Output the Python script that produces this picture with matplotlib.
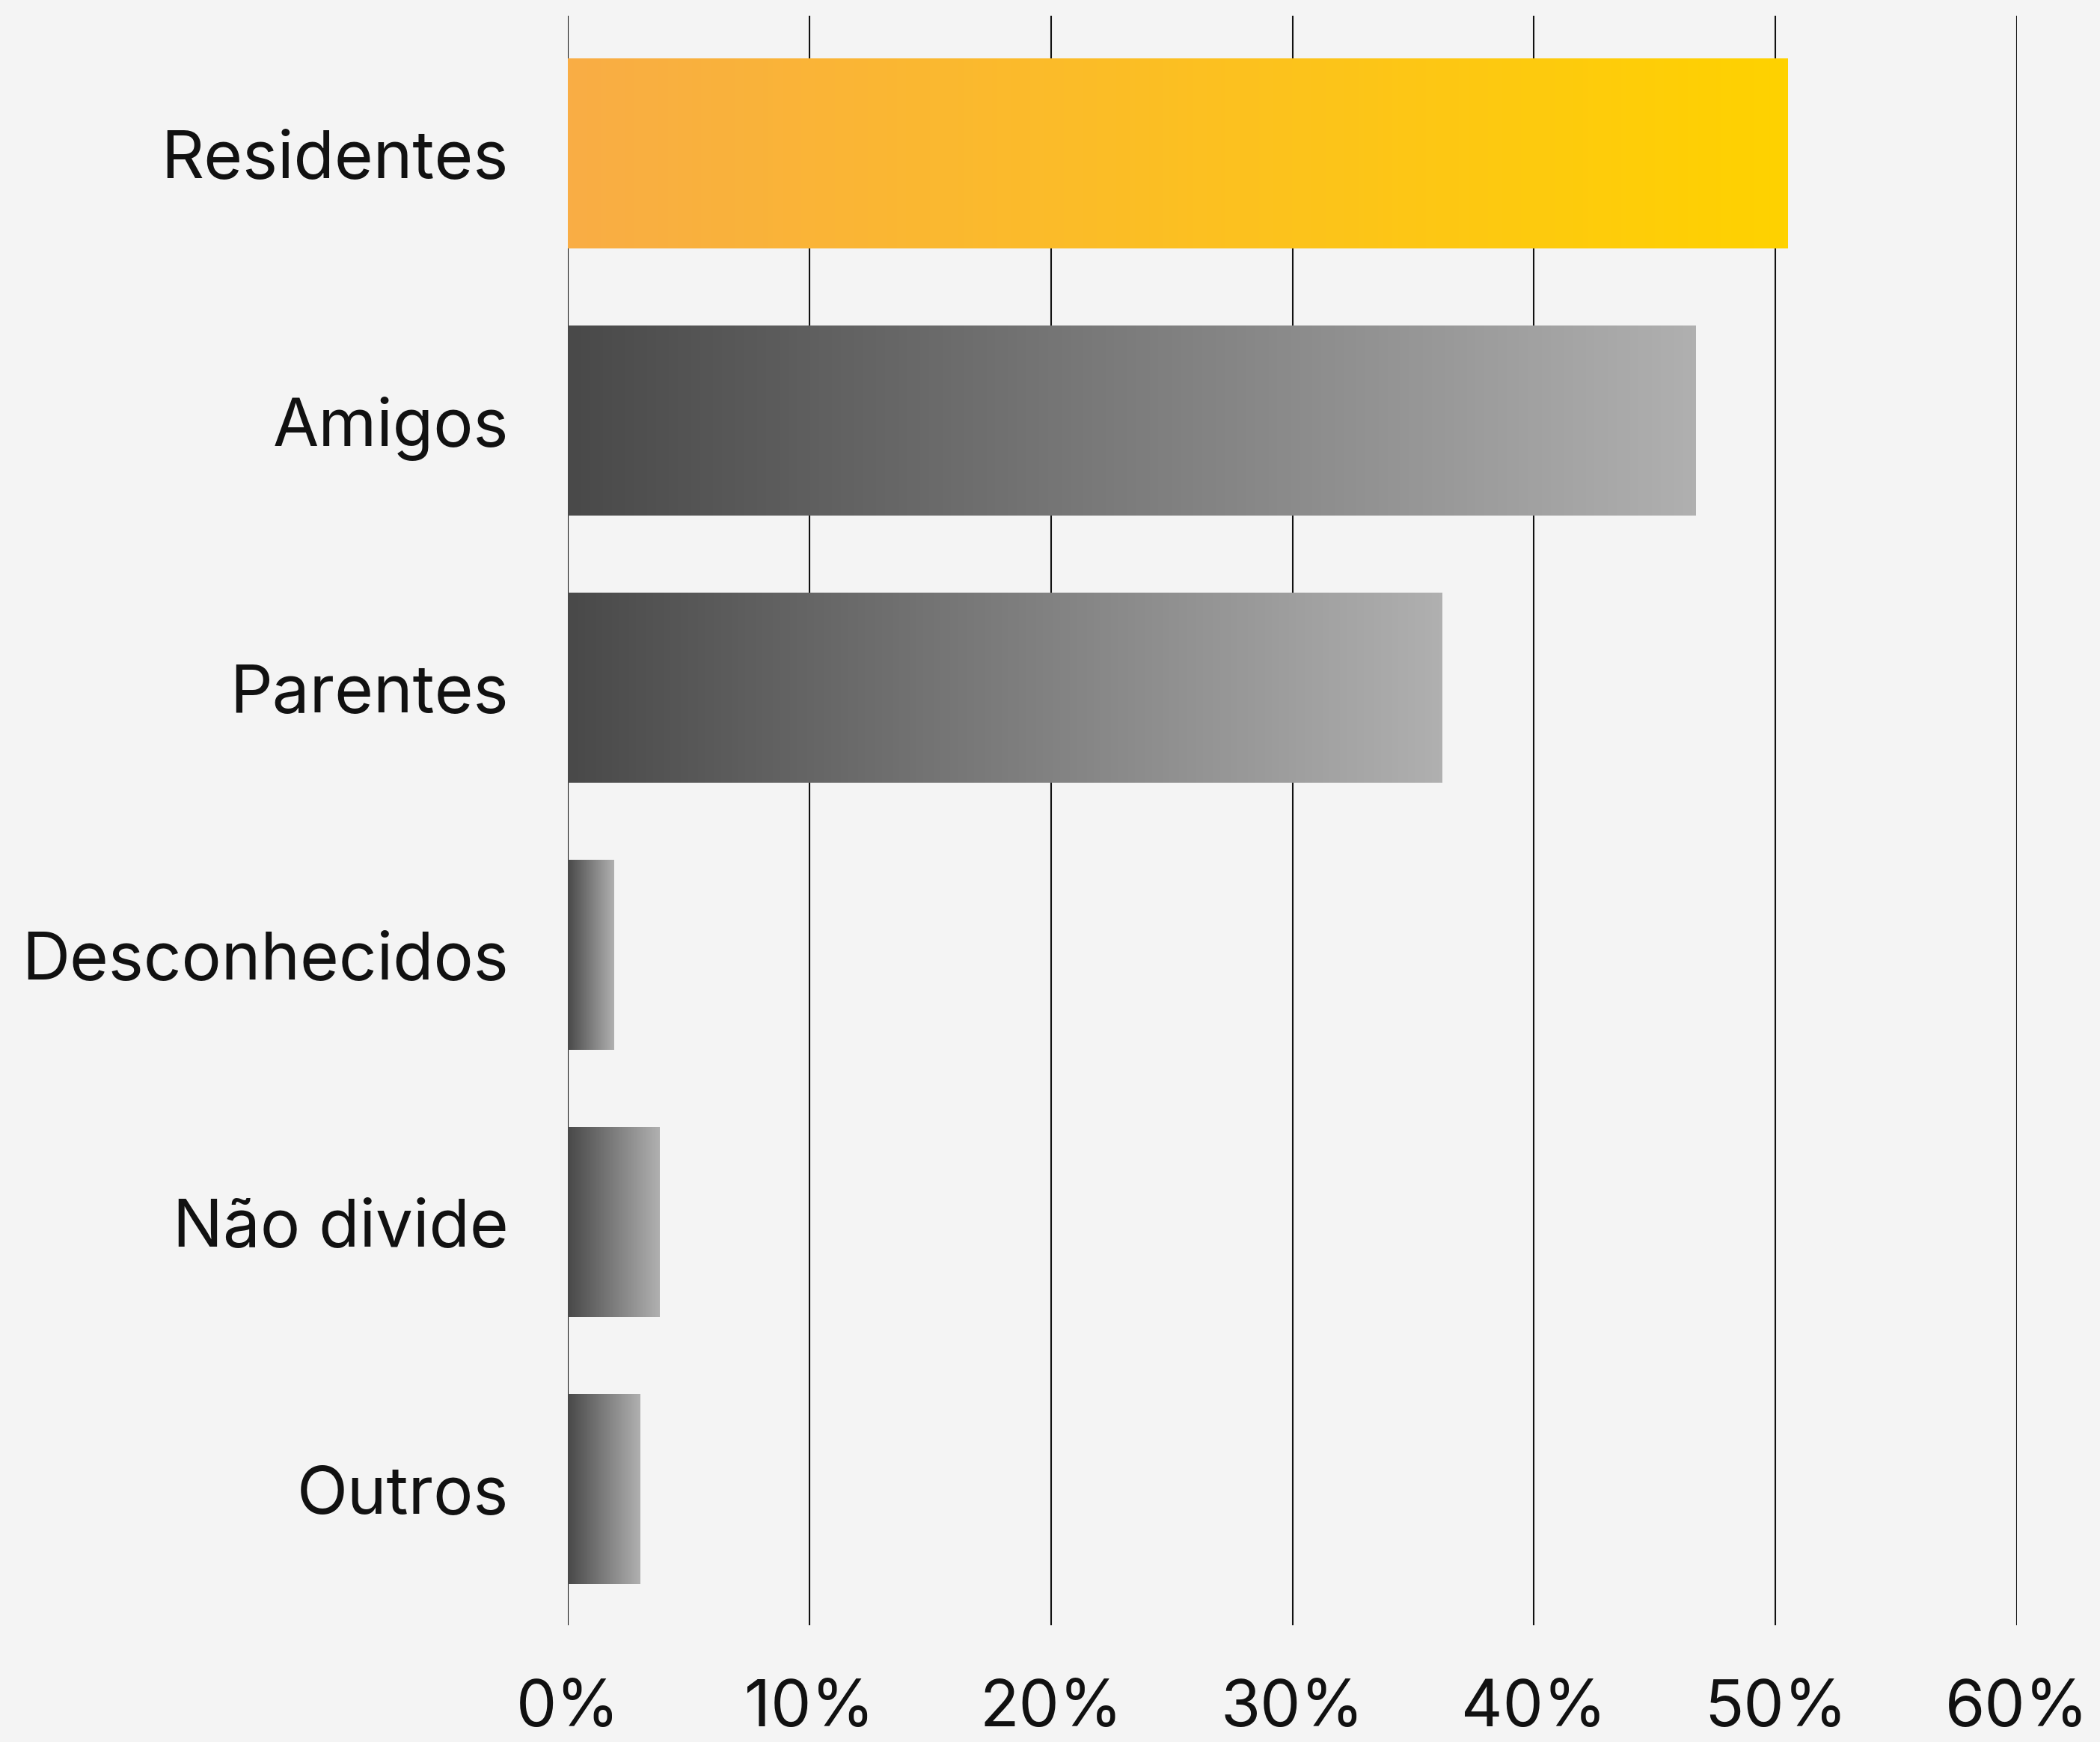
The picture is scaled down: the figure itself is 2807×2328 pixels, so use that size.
import numpy as np
import matplotlib
matplotlib.use("Agg")
import matplotlib.pyplot as plt
from matplotlib.colors import LinearSegmentedColormap

categorias = ["Residentes", "Amigos", "Parentes", "Desconhecidos", "Não divide", "Outros"]
valores = [50.5, 46.7, 36.2, 1.9, 3.8, 3.0]
ticks_x = [0, 10, 20, 30, 40, 50, 60]
rotulos_x = ["0%", "10%", "20%", "30%", "40%", "50%", "60%"]

fundo = "#f4f4f4"
cmap_destaque = LinearSegmentedColormap.from_list("destaque", ["#f9ad45", "#ffd200"])
cmap_cinza = LinearSegmentedColormap.from_list("cinza", ["#494949", "#b0b0b0"])

plt.rcParams["font.family"] = ["Inter", "DejaVu Sans"]

fig = plt.figure(figsize=(28.07, 23.28), dpi=100, facecolor=fundo)
ax = fig.add_axes([0.2704, 0.067, 0.6901, 0.924])
ax.set_facecolor(fundo)

y = np.arange(len(categorias))
barras = ax.barh(y, valores, height=0.71, color="none", zorder=3)

# gradiente horizontal dentro de cada barra
grad = np.linspace(0, 1, 256).reshape(1, -1)
for i, b in enumerate(barras):
    cmap = cmap_destaque if i == 0 else cmap_cinza
    x0, y0 = b.get_x(), b.get_y()
    im = ax.imshow(grad, cmap=cmap, aspect="auto", zorder=3,
                   extent=(x0, x0 + b.get_width(), y0, y0 + b.get_height()))
    im.set_clip_path(b)

for t in ticks_x:
    ax.axvline(t, color="#111111", lw=1.5, zorder=1)

ax.set_xlim(0, 60)
ax.set_ylim(5.51, -0.515)
ax.set_xticks(ticks_x)
ax.set_xticklabels(rotulos_x)
ax.set_yticks(y)
ax.set_yticklabels(categorias)
ax.tick_params(axis="x", length=0, pad=52, labelsize=62, colors="#111111")
ax.tick_params(axis="y", length=0, pad=57, labelsize=64, colors="#111111")
for s in ax.spines.values():
    s.set_visible(False)

fig.savefig("out.png", dpi=100, facecolor=fundo)
